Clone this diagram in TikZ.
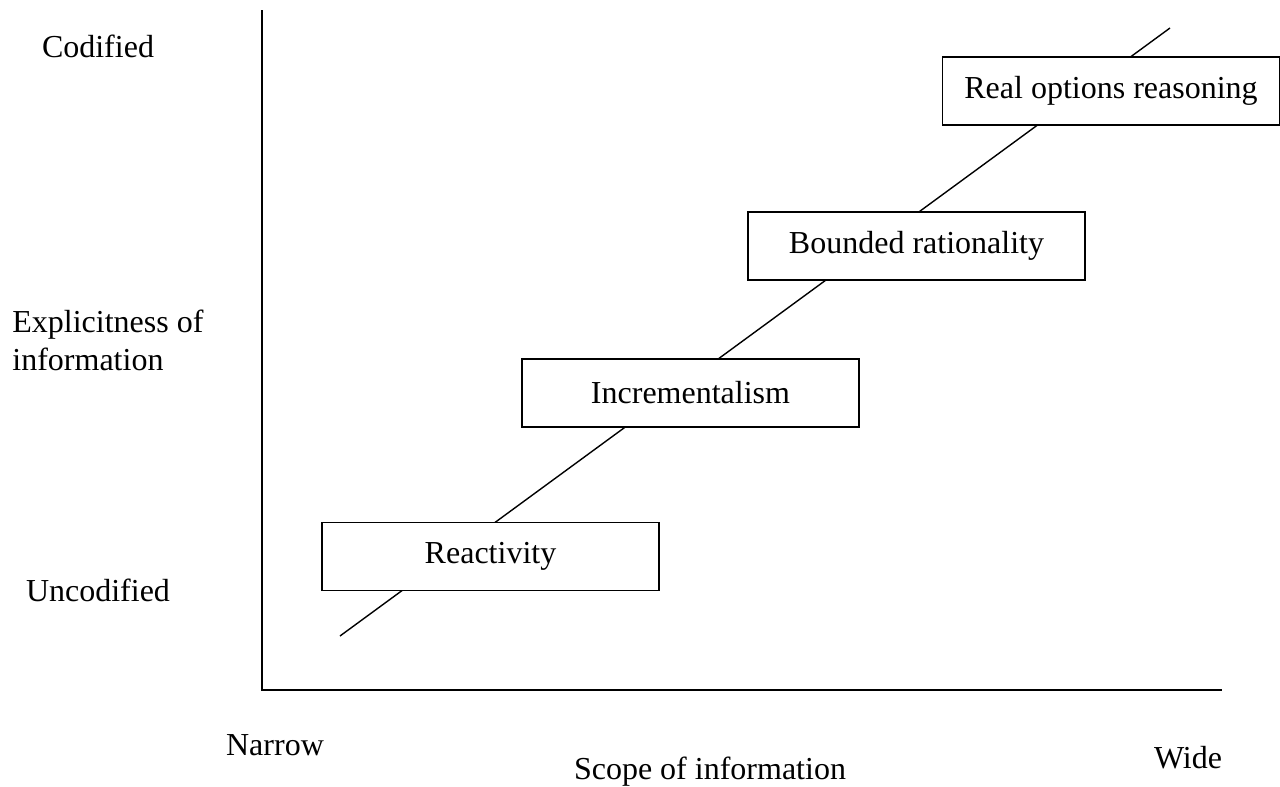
\documentclass[tikz,border=0pt]{standalone}
\usepackage{fontspec}
\setmainfont{Liberation Serif}
\usetikzlibrary{positioning}
\tikzstyle{stage} = [rectangle, minimum width=168.5pt, minimum height=34pt, text centered, draw=black, fill=white, line width=0.85pt, inner sep=0pt]
\tikzstyle{label} = [inner sep=0pt, text centered]

\begin{document}
\begin{tikzpicture}[x=0.5pt, y=-0.5pt, font=\fontsize{16}{19}\selectfont]
\useasboundingbox (0,0) rectangle (1280,787);
% Axes
\coordinate (top) at (262,10);
\coordinate (origin) at (262,690);
\coordinate (right) at (1222,690);
\draw [line width=0.85pt] (top) -- (origin) -- (right);

% Trend line
\coordinate (low) at (340,636);
\coordinate (high) at (1170,28);
\draw [line width=0.7pt] (low) -- (high);

% Stages
\node (reactivity) [stage] at (490.5,556.5) {\raisebox{-2pt}{Reactivity}};
\node (incremental) [stage] at (690.5,393) {\raisebox{-2pt}{Incrementalism}};
\node (bounded) [stage] at (916.5,246) {\raisebox{-2pt}{Bounded rationality}};
\node (realoptions) [stage] at (1111,91) {\raisebox{-2pt}{Real options reasoning}};

% Axis labels
\node (codified) [label] at (98,46) {Codified};
\node (explicit) [label, align=left, anchor=west] at (12,340) {Explicitness of\\information};
\node (uncodified) [label] at (98,590) {Uncodified};
\node (narrow) [label] at (275,745) {Narrow};
\node (scope) [label] at (710,772) {Scope of information};
\node (wide) [label] at (1188,758) {Wide};
\end{tikzpicture}
\end{document}
